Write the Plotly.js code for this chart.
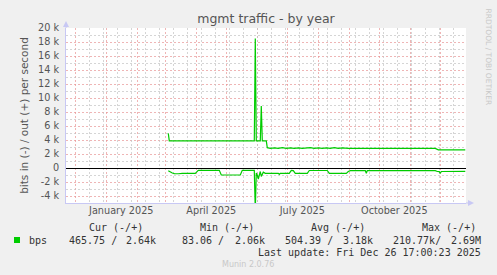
<!DOCTYPE html>
<html>
<head>
<meta charset="utf-8">
<script src="https://cdn.plot.ly/plotly-3.0.1.min.js"></script>
<style>
html,body{margin:0;padding:0;background:#f0f0f0;}
#chart{width:497px;height:275px;}
</style>
</head>
<body>
<div id="chart"></div>
<script>
// ---- data ----
const outDates = ['2025-03-04','2025-03-05','2025-05-29','2025-05-30','2025-05-31','2025-06-04','2025-06-05','2025-06-06','2025-06-10','2025-06-11',
  '2025-06-14','2025-06-18','2025-06-22','2025-06-26','2025-06-30','2025-07-04','2025-07-08','2025-07-12','2025-07-16','2025-07-20',
  '2025-07-24','2025-07-28','2025-08-01','2025-08-05','2025-08-09','2025-08-13','2025-08-17','2025-08-21','2025-08-25','2025-08-31',
  '2025-11-26','2025-11-29','2025-12-26'];
const outVals = [4950,3880,3880,18500,3880,3880,8860,3880,3880,2900,
  2800,2870,2800,2900,2800,2870,2800,2880,2800,2820,
  2900,2800,2880,2800,2870,2800,2900,2810,2880,2790,
  2790,2600,2600];

const inDates = ['2025-03-04','2025-03-06','2025-03-08','2025-03-10','2025-03-12','2025-03-14','2025-03-18','2025-03-31','2025-04-03',
  '2025-04-24','2025-04-26','2025-05-15','2025-05-17','2025-05-29','2025-05-30','2025-05-31','2025-06-01','2025-06-02','2025-06-04',
  '2025-06-05','2025-06-07','2025-06-09','2025-06-22','2025-06-23','2025-06-24','2025-07-03','2025-07-05','2025-07-07','2025-07-09',
  '2025-07-21','2025-07-23','2025-08-10','2025-08-12','2025-08-29','2025-08-31','2025-09-02','2025-09-17','2025-09-18','2025-09-19',
  '2025-11-26','2025-11-28','2025-11-30','2025-12-01','2025-12-02','2025-12-26'];
const inVals = [-390,-600,-720,-800,-760,-820,-760,-760,-340,
  -340,-1000,-1000,-340,-340,-6000,-700,-1000,-1570,-500,
  -1200,-600,-760,-760,-900,-760,-760,-340,-380,-760,
  -760,-360,-360,-760,-760,-500,-380,-380,-760,-380,
  -380,-500,-520,-760,-500,-470];

const yTickVals = [-4000,-2000,0,2000,4000,6000,8000,10000,12000,14000,16000,18000,20000];
const yTickText = ['-4 k','-2 k','0','2 k','4 k','6 k','8 k','10 k','12 k','14 k','16 k','18 k','20 k'];
const yMinorVals = [-5000,-3000,-1000,1000,3000,5000,7000,9000,11000,13000,15000,17000,19000];
const monthStarts = ['2024-12-01','2025-01-01','2025-02-01','2025-03-01','2025-04-01','2025-05-01','2025-06-01',
  '2025-07-01','2025-08-01','2025-09-01','2025-10-01','2025-11-01','2025-12-01'];
const xLabelVals = ['2025-01-16','2025-04-16','2025-07-16','2025-10-16'];
const xLabelText = ['January 2025','April 2025','July 2025','October 2025'];

const legendHeaders = ['Cur (-/+)','Min (-/+)','Avg (-/+)','Max (-/+)'];
const legendIn  = ['465.75 /','83.06 /','504.39 /','210.77k/'];
const legendOut = ['2.64k','2.06k','3.18k','2.69M'];
const seriesName = 'bps';
const lastUpdate = 'Last update: Fri Dec 26 17:00:23 2025';

// ---- layout helpers (pixel -> paper) ----
const W = 497, H = 275, L = 66, R = 466, T = 28, B = 203;
const px = x => (x - L) / (R - L);
const py = y => (B - y) / (B - T);

// minor vertical grid: every 14 days
const minorX = [];
for (let t = Date.UTC(2024, 11, 15); t < Date.UTC(2025, 11, 27); t += 14 * 86400000) {
  minorX.push(new Date(t).toISOString().slice(0, 10));
}

const mono = 'DejaVu Sans Mono, monospace';
const sans = 'DejaVu Sans, sans-serif';
const txt = '#555555';
const redGrid = 'rgba(232,150,150,0.7)';
const grayGrid = 'rgba(195,195,195,0.7)';
const axisBlue = '#c8c8f4';
const dash = '2px,2px';

const traces = [
  {x: [], y: [], xaxis: 'x3', yaxis: 'y2', type: 'scatter'},
  {x: [], y: [], xaxis: 'x2', type: 'scatter'},
  {x: outDates, y: outVals, type: 'scatter', mode: 'lines', line: {color: '#00cc00', width: 1.2}, hoverinfo: 'none'},
  {x: inDates, y: inVals, type: 'scatter', mode: 'lines', line: {color: '#00cc00', width: 1.2}, hoverinfo: 'none'}
];

const ann = [];
const cols = [116, 227, 338, 449];
const inX = [67, 180, 283, 391];
const outX = [158, 267, 375, 483];
for (let i = 0; i < 4; i++) {
  ann.push({text: legendHeaders[i], x: px(cols[i]), y: py(227), xanchor: 'center', yanchor: 'middle'});
  ann.push({text: legendIn[i], x: px(inX[i]), y: py(240), xanchor: 'left', yanchor: 'middle'});
  ann.push({text: legendOut[i], x: px(outX[i]), y: py(240), xanchor: 'right', yanchor: 'middle'});
}
ann.push({text: seriesName, x: px(27), y: py(240), xanchor: 'left', yanchor: 'middle'});
ann.push({text: lastUpdate, x: px(483), y: py(252), xanchor: 'right', yanchor: 'middle'});
ann.forEach(a => { a.xref = 'paper'; a.yref = 'paper'; a.showarrow = false; a.font = {family: mono, size: 10, color: '#333'}; });
ann.push({text: 'Munin 2.0.76', x: px(248), y: py(264), xref: 'paper', yref: 'paper', showarrow: false,
  xanchor: 'center', yanchor: 'middle', font: {family: sans, size: 8, color: '#c8c8c8'}});
ann.push({text: 'RRDTOOL / TOBI OETIKER', x: px(488), y: py(6), xref: 'paper', yref: 'paper', showarrow: false,
  xanchor: 'center', yanchor: 'top', textangle: 90, font: {family: sans, size: 7.5, color: '#c8c8c8'}});

const shapes = [
  {type: 'line', xref: 'paper', yref: 'paper', x0: 0, x1: 0, y0: 1, y1: py(23), line: {color: axisBlue, width: 1}},
  {type: 'path', xref: 'paper', yref: 'paper',
   path: `M ${px(63)} ${py(27)} L ${px(69)} ${py(27)} L ${px(66)} ${py(21)} Z`, fillcolor: axisBlue, line: {width: 0}},
  {type: 'line', xref: 'paper', yref: 'paper', x0: 1, x1: px(469), y0: 0, y1: 0, line: {color: axisBlue, width: 1}},
  {type: 'path', xref: 'paper', yref: 'paper',
   path: `M ${px(468)} ${py(200)} L ${px(468)} ${py(206)} L ${px(474)} ${py(203)} Z`, fillcolor: axisBlue, line: {width: 0}},
  {type: 'rect', xref: 'paper', yref: 'paper', x0: px(14), x1: px(20), y0: py(243), y1: py(237), fillcolor: '#00cc00', line: {width: 0}}
];

const range = ['2024-11-21 17:00', '2025-12-26 17:00'];
const yrange = [-5000, 20000];
const layout = {
  width: W, height: H,
  margin: {l: L, r: W - R, t: T, b: H - B, pad: 0},
  paper_bgcolor: '#f0f0f0', plot_bgcolor: '#ffffff',
  showlegend: false,
  title: {text: 'mgmt traffic - by year', x: 0.5, xref: 'paper', y: 1 - 19 / H, yanchor: 'middle',
    font: {family: sans, size: 12.5, color: txt}},
  xaxis: {type: 'date', range: range, tickmode: 'array', tickvals: monthStarts, showticklabels: false, ticks: '',
    showgrid: true, gridcolor: redGrid, griddash: dash, gridwidth: 1, showline: true, linecolor: axisBlue, zeroline: false},
  xaxis2: {type: 'date', range: range, overlaying: 'x', anchor: 'y', side: 'bottom', tickmode: 'array',
    tickvals: xLabelVals, ticktext: xLabelText, showgrid: false, showline: false, zeroline: false, ticks: '',
    tickfont: {family: sans, size: 9.7, color: txt}},
  xaxis3: {type: 'date', range: range, overlaying: 'x', anchor: 'y', side: 'bottom', tickmode: 'array',
    tickvals: minorX, showticklabels: false, showgrid: true, gridcolor: grayGrid, griddash: dash, showline: false, zeroline: false, ticks: ''},
  yaxis: {range: yrange, tickmode: 'array', tickvals: yTickVals, ticktext: yTickText, ticks: '',
    tickfont: {family: sans, size: 9.7, color: txt}, ticklabelstandoff: 4,
    showgrid: true, gridcolor: redGrid, griddash: dash, gridwidth: 1,
    zeroline: true, zerolinecolor: '#000000', zerolinewidth: 1, showline: true, linecolor: axisBlue,
    title: {text: 'bits in (-) / out (+) per second', standoff: 7, font: {family: sans, size: 10.5, color: txt}}},
  yaxis2: {range: yrange, overlaying: 'y', anchor: 'x', side: 'left', tickmode: 'array', tickvals: yMinorVals,
    showticklabels: false, showgrid: true, gridcolor: grayGrid, griddash: dash, zeroline: false, showline: false, ticks: ''},
  annotations: ann,
  shapes: shapes
};

Plotly.newPlot('chart', traces, layout, {staticPlot: true, displayModeBar: false});
</script>
</body>
</html>
